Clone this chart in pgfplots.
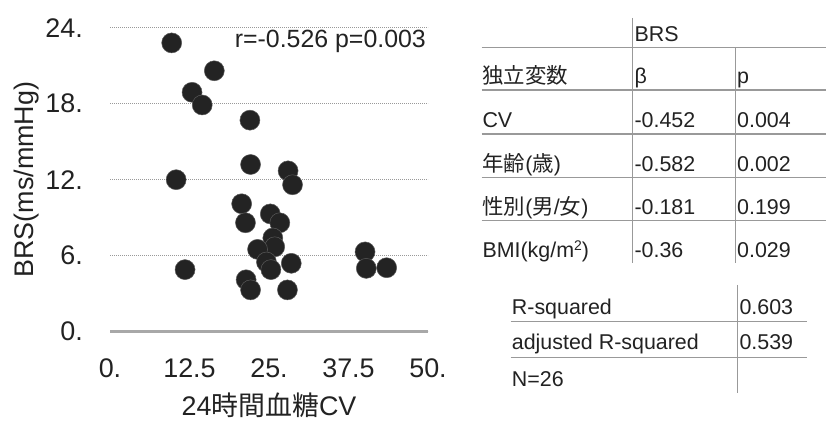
\documentclass[border=0pt]{standalone}
\usepackage{fontspec}
\setmainfont{Liberation Sans}
\newfontfamily\cjk{Noto Sans CJK JP}
\usepackage{pgfplots}
\pgfplotsset{compat=1.18}
\definecolor{txt}{HTML}{222222}
\definecolor{dot}{HTML}{232323}
\definecolor{rule}{HTML}{999999}
\newcommand{\bigfont}{\fontsize{27}{30}\selectfont}
\newcommand{\tabfont}{\fontsize{21.5}{24}\selectfont}
\begin{document}
\begin{tikzpicture}
\useasboundingbox (0,0) rectangle (826bp,421bp);
\begin{axis}[
    at={(110bp,89.3bp)}, anchor=south west,
    width=318bp, height=304bp, scale only axis,
    xmin=0, xmax=50, ymin=0, ymax=24,
    clip=false,
    axis line style={draw=none},
    major tick length=0pt,
    xtick={0,12.5,25,37.5,50},
    xticklabels={0.,12.5,25.,37.5,50.},
    ytick={0,6,12,18,24},
    yticklabels={0.,6.,12.,18.,24.},
    ticklabel style={font=\bigfont, text=txt},
    xticklabel style={inner sep=0pt, anchor=base, yshift=-46bp},
    yticklabel style={inner sep=0pt, anchor=east, xshift=-27bp},
    ymajorgrids,
    major grid style={rule, line width=1bp, dash pattern=on 1bp off 1bp},
    xlabel={24{\cjk 時間血糖}CV},
    xlabel style={at={(axis description cs:0.5,0)}, anchor=base, yshift=-84bp, font=\bigfont, text=txt, inner sep=0pt},
    ylabel={BRS(ms/mmHg)},
    ylabel style={at={(axis description cs:-0.242,0.5)}, anchor=base, font=\bigfont, text=txt, inner sep=0pt},
]
\draw[gray!68, line width=2.5bp] (axis cs:0,0) -- (axis cs:50,0);
% BRS vs 24h glucose CV, one point per patient (N=26)
\addplot[only marks, mark=*, mark size=10bp,
    mark options={fill=dot, draw=black!65, line width=0.5bp}] coordinates {
(9.7,22.8) (16.4,20.6) (12.9,18.9) (14.5,17.9) (22.0,16.7)
(22.1,13.2) (28.0,12.7) (28.7,11.6) (10.4,12.0) (20.7,10.1)
(21.3,8.6) (25.2,9.3) (26.7,8.6) (25.6,7.4) (25.9,6.7)
(23.2,6.5) (24.6,5.5) (25.3,4.9) (28.5,5.4) (21.4,4.1)
(22.1,3.3) (27.9,3.3) (11.8,4.9) (40.1,6.3) (40.3,5.0)
(43.5,5.05)
};
\node[anchor=base east, inner sep=0pt, text=txt, font=\fontsize{25}{28}\selectfont]
    at (axis cs:49.7,22.42) {r=-0.526 p=0.003};
\end{axis}

% regression table
\begin{scope}[draw=rule, line width=1.5bp]
\draw (632.7bp,403bp) -- (632.7bp,157.7bp);
\draw (735.7bp,373.7bp) -- (735.7bp,157.7bp);
\foreach \yy in {373.7,331,287,243.7,200.3}
    \draw (481.7bp,\yy bp) -- (826bp,\yy bp);
\draw (737.3bp,136bp) -- (737.3bp,28.3bp);
\foreach \yy in {99.3,63.7}
    \draw (510.7bp,\yy bp) -- (807.3bp,\yy bp);
\end{scope}
\begin{scope}[every node/.style={anchor=base west, inner sep=0pt, text=txt, font=\tabfont}]
\node at (634.3bp,379.5bp) {BRS};
\node at (482.3bp,337bp) {{\cjk 独立変数}};
\node at (634.3bp,337bp) {β};
\node at (737bp,337bp) {p};
\node at (482.3bp,293bp) {CV};
\node at (634.3bp,293bp) {-0.452};
\node at (737bp,293bp) {0.004};
\node at (482.3bp,249.7bp) {{\cjk 年齢}({\cjk 歳})};
\node at (634.3bp,249.7bp) {-0.582};
\node at (737bp,249.7bp) {0.002};
\node at (482.3bp,206.3bp) {{\cjk 性別}({\cjk 男}/{\cjk 女})};
\node at (634.3bp,206.3bp) {-0.181};
\node at (737bp,206.3bp) {0.199};
\node at (482.3bp,163bp) {BMI(kg/m{\fontsize{14}{16}\selectfont\raisebox{7.5bp}{2}})};
\node at (634.3bp,163bp) {-0.36};
\node at (737bp,163bp) {0.029};
\node at (511.7bp,106bp) {R-squared};
\node at (739.3bp,106bp) {0.603};
\node at (511.7bp,71bp) {adjusted R-squared};
\node at (739.3bp,71bp) {0.539};
\node at (511.7bp,34.3bp) {N=26};
\end{scope}
\end{tikzpicture}
\end{document}
